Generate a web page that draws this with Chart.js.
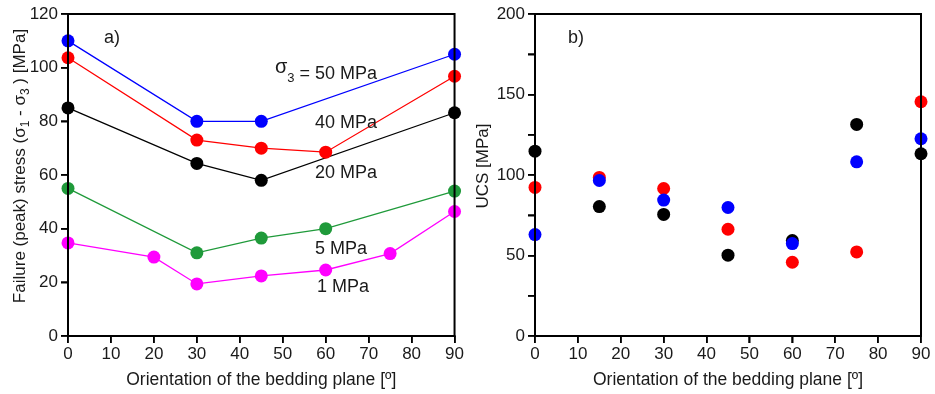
<!DOCTYPE html>
<html>
<head>
<meta charset="utf-8">
<script src="https://cdn.jsdelivr.net/npm/chart.js@4"></script>
<style>
  body { margin: 0; background: #fff; width: 935px; height: 394px; position: relative; overflow: hidden; }
  #wrapA { position: absolute; left: 0; top: 0; width: 465px; height: 394px; }
  #wrapB { position: absolute; left: 465px; top: 0; width: 470px; height: 394px; }
</style>
</head>
<body>
<div id="wrapA"><canvas id="chartA"></canvas></div>
<div id="wrapB"><canvas id="chartB"></canvas></div>
<script>
// Panel a) failure stress vs. bedding orientation, per confining pressure
const angles50 = [0, 30, 45, 90];
const stress50 = [110, 80, 80, 105];
const angles40 = [0, 30, 45, 60, 90];
const stress40 = [103.7, 73, 70, 68.5, 96.8];
const angles20 = [0, 30, 45, 90];
const stress20 = [85, 64.3, 58, 83.2];
const angles5 = [0, 30, 45, 60, 90];
const stress5 = [55, 31, 36.5, 40, 54];
const angles1 = [0, 20, 30, 45, 60, 75, 90];
const stress1 = [34.7, 29.4, 19.4, 22.4, 24.6, 30.7, 46.4];

// Panel b) UCS
const anglesUcs = [0, 15, 30, 45, 60, 75, 90];
const ucsBlue = [63, 96.6, 84.4, 79.8, 57.4, 108.2, 122.5];
const ucsRed = [92.3, 98.5, 91.6, 66.3, 45.8, 52.2, 145.5];
const ucsBlack = [114.8, 80.4, 75.5, 50.2, 59.3, 131.4, 113.2];

const xTicks = [0, 10, 20, 30, 40, 50, 60, 70, 80, 90];
const yTicksA = [0, 20, 40, 60, 80, 100, 120];
const yMarksA = [0, 20, 40, 60, 80, 100, 120];
const yTicksB = [0, 50, 100, 150, 200];
const yMarksB = [0, 25, 50, 75, 100, 125, 150, 175, 200];

const FONT = '"Liberation Sans", Arial, sans-serif';
const TEXT = '#1a1a1a';
const TICK_LEN = 7;

const pts = (xs, ys) => xs.map((x, i) => ({ x: x, y: ys[i] }));

function lineSet(xs, ys, color) {
  return {
    data: pts(xs, ys),
    showLine: true,
    borderColor: color,
    backgroundColor: color,
    borderWidth: 1.3,
    pointRadius: 6.5,
    pointBorderWidth: 0,
    pointBackgroundColor: color,
    clip: false
  };
}

function dotSet(xs, ys, color) {
  return {
    data: pts(xs, ys),
    showLine: false,
    backgroundColor: color,
    pointRadius: 6.5,
    pointBorderWidth: 0,
    pointBackgroundColor: color,
    clip: false
  };
}

function axes(yMax, yMarks, yLabels, yWidth) {
  const axisGrid = { display: true, drawOnChartArea: false, drawTicks: true, tickLength: TICK_LEN, color: '#000', lineWidth: 1.5 };
  return {
    x: {
      type: 'linear', min: 0, max: 90,
      afterBuildTicks: (s) => { s.ticks = xTicks.map(v => ({ value: v })); },
      afterFit: (s) => { s.height = 58; },
      grid: axisGrid,
      border: { display: true, color: '#000', width: 2 },
      ticks: { color: TEXT, padding: 1, font: { family: FONT, size: 17 } },
      title: {
        display: true, text: 'Orientation of the bedding plane [º]', color: TEXT,
        padding: { top: 0, bottom: 3 }, font: { family: FONT, size: 17.5 }
      }
    },
    y: {
      type: 'linear', min: 0, max: yMax,
      afterBuildTicks: (s) => { s.ticks = yMarks.map(v => ({ value: v })); },
      ticks: {
        autoSkip: false, color: TEXT, padding: 3, font: { family: FONT, size: 17 },
        callback: (v) => yLabels.includes(v) ? String(v) : ' '
      },
      afterFit: (s) => { s.width = yWidth; },
      grid: axisGrid,
      border: { display: true, color: '#000', width: 2 }
    }
  };
}

// frame round the plot area, plus outward tick marks at every mark value
function framePlugin(yMarks) {
  return {
    id: 'frame',
    afterDraw(chart) {
      const { ctx, chartArea: a } = chart;
      const xs = chart.scales.x, ys = chart.scales.y;
      ctx.save();
      ctx.strokeStyle = '#000';
      ctx.lineWidth = 2;
      ctx.strokeRect(a.left, a.top, a.right - a.left, a.bottom - a.top);
      ctx.lineWidth = 1.5;
      ctx.beginPath();
      yMarks.forEach(v => {
        const py = Math.round(ys.getPixelForValue(v));
        ctx.moveTo(a.left - TICK_LEN, py);
        ctx.lineTo(a.left, py);
      });
      xTicks.forEach(v => {
        const px = Math.round(xs.getPixelForValue(v));
        ctx.moveTo(px, a.bottom);
        ctx.lineTo(px, a.bottom + TICK_LEN);
      });
      ctx.stroke();
      ctx.restore();
    }
  };
}

function drawRuns(ctx, runs, x, y) {
  // runs: [text, size, dy]
  let cx = x;
  runs.forEach(([t, size, dy]) => {
    ctx.font = size + 'px ' + FONT;
    ctx.fillText(t, cx, y + dy);
    cx += ctx.measureText(t).width;
  });
}

function runsWidth(ctx, runs) {
  let w = 0;
  runs.forEach(([t, size]) => { ctx.font = size + 'px ' + FONT; w += ctx.measureText(t).width; });
  return w;
}

const labelsA = {
  id: 'labelsA',
  afterDraw(chart) {
    const ctx = chart.ctx;
    ctx.save();
    ctx.fillStyle = TEXT;
    ctx.textBaseline = 'alphabetic';
    ctx.textAlign = 'left';
    // y axis title, rotated, with subscripts
    const runs = [['Failure (peak) stress (σ', 17, 0], ['1', 12, 4], [' - σ', 17, 0], ['3', 12, 4], [' ) [MPa]', 17, 0]];
    ctx.translate(25, 166);
    ctx.rotate(-Math.PI / 2);
    drawRuns(ctx, runs, -runsWidth(ctx, runs) / 2, 0);
    ctx.setTransform(1, 0, 0, 1, 0, 0);
    // panel letter and pressure labels
    ctx.font = '18px ' + FONT;
    ctx.fillText('a)', 104, 43);
    drawRuns(ctx, [['σ', 20, -6], ['3', 13, 3], [' = 50 MPa', 18, 0]], 275, 79);
    ctx.font = '18px ' + FONT;
    ctx.fillText('40 MPa', 315, 128);
    ctx.fillText('20 MPa', 315, 178);
    ctx.fillText('5 MPa', 315, 254);
    ctx.fillText('1 MPa', 317, 292);
    ctx.restore();
  }
};

const labelsB = {
  id: 'labelsB',
  afterDraw(chart) {
    const ctx = chart.ctx;
    ctx.save();
    ctx.fillStyle = TEXT;
    ctx.textBaseline = 'alphabetic';
    ctx.font = '17px ' + FONT;
    ctx.translate(23, 166);
    ctx.rotate(-Math.PI / 2);
    ctx.textAlign = 'center';
    ctx.fillText('UCS [MPa]', 0, 0);
    ctx.setTransform(1, 0, 0, 1, 0, 0);
    ctx.textAlign = 'left';
    ctx.font = '18px ' + FONT;
    ctx.fillText('b)', 103, 43);
    ctx.restore();
  }
};

const common = {
  responsive: true,
  maintainAspectRatio: false,
  animation: false,
  plugins: { legend: { display: false }, tooltip: { enabled: false } }
};

new Chart(document.getElementById('chartA'), {
  type: 'scatter',
  data: {
    datasets: [
      lineSet(angles50, stress50, '#0000ff'),
      lineSet(angles40, stress40, '#ff0000'),
      lineSet(angles20, stress20, '#000000'),
      lineSet(angles5, stress5, '#1f9a3a'),
      lineSet(angles1, stress1, '#ff00ff')
    ]
  },
  options: Object.assign({}, common, {
    layout: { padding: { left: 0, right: 10, top: 14, bottom: 0 } },
    scales: axes(120, yMarksA, yTicksA, 68)
  }),
  plugins: [framePlugin(yMarksA), labelsA]
});

new Chart(document.getElementById('chartB'), {
  type: 'scatter',
  data: {
    datasets: [
      dotSet(anglesUcs, ucsBlue, '#0000ff'),
      dotSet(anglesUcs, ucsRed, '#ff0000'),
      dotSet(anglesUcs, ucsBlack, '#000000')
    ]
  },
  options: Object.assign({}, common, {
    layout: { padding: { left: 0, right: 14, top: 14, bottom: 0 } },
    scales: axes(200, yMarksB, yTicksB, 70)
  }),
  plugins: [framePlugin(yMarksB), labelsB]
});
</script>
</body>
</html>
